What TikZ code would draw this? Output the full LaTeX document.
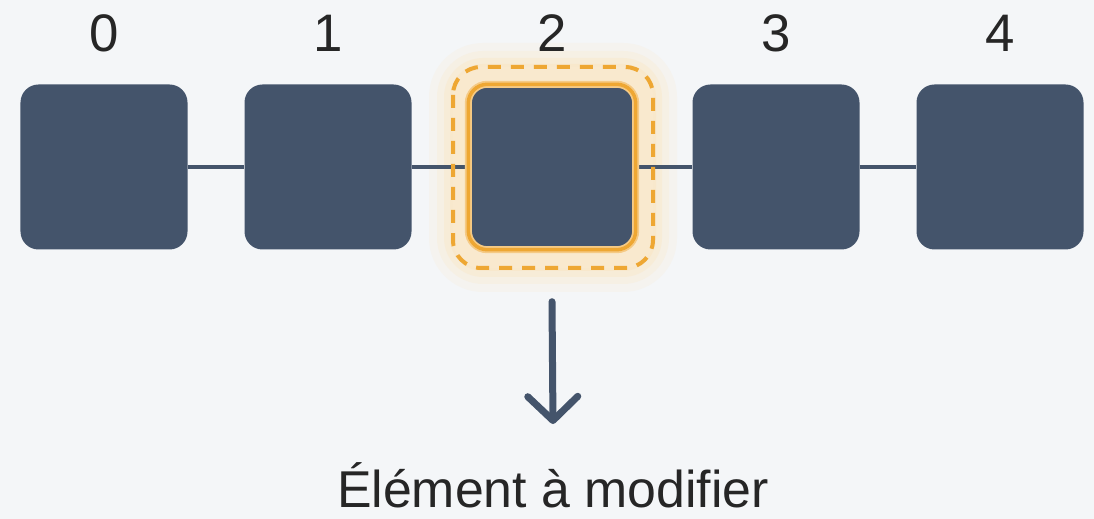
\documentclass[tikz,border=0pt]{standalone}
\usepackage{fontspec}
\setmainfont{Liberation Sans}
\usetikzlibrary{arrows.meta}
\definecolor{slate}{HTML}{44546B}
\definecolor{bgcol}{HTML}{F4F6F8}
\definecolor{amber}{HTML}{EEA733}
\definecolor{glow}{HTML}{FBE4BC}
\begin{document}
\begin{tikzpicture}[x=1bp,y=-1bp,
  cell/.style={fill=slate,rounded corners=18bp,minimum width=167bp,minimum height=165bp,inner sep=0pt},
  idx/.style={font=\fontsize{53}{60}\selectfont,text=black!85,anchor=base},
  link/.style={slate,line width=4bp}]
\fill[bgcol] (0,0) rectangle (1094,519);
% soft glow round the chosen cell
\foreach \s/\o in {24/0.15,16/0.2,9/0.3,3/0.4}{
  \fill[glow,opacity=\o,rounded corners=30bp+\s] (453-\s,67-\s) rectangle (653+\s,268+\s);
}
\fill[bgcol!30!glow,rounded corners=28bp] (453,67) rectangle (653,268);
\foreach \i in {0,...,4}{
  \node[cell] (b\i) at (104+224*\i,167) {};
  \node[idx] (l\i) at (104+224*\i,52) {\i};
}
\foreach \i/\j in {0/1,1/2,2/3,3/4}{
  \draw[link] (b\i.east) -- (b\j.west);
}
\draw[amber!60,line width=7bp,rounded corners=19bp] (b2.south west) rectangle (b2.north east);
\draw[amber,line width=3.5bp,rounded corners=19bp] (b2.south west) rectangle (b2.north east);
\draw[amber,line width=4bp,dash pattern=on 13bp off 10bp,rounded corners=28bp] (453,67) rectangle (653,268);
\node[font=\fontsize{52}{60}\selectfont,text=black!85,anchor=base] (lbl) at (553,507) {Élément à modifier};
\coordinate (tip) at (553,424);
\draw[slate,line width=7bp,line cap=round,-{Straight Barb[round,length=24bp,width=50bp]}]
  ([yshift=-52bp]b2.south) -- (tip);
\end{tikzpicture}
\end{document}
